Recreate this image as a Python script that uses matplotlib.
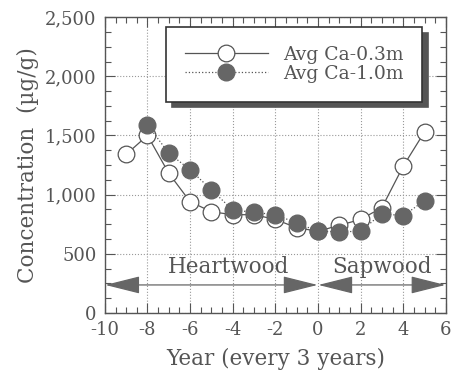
import numpy as np
import matplotlib.pyplot as plt
from matplotlib.ticker import MultipleLocator, FuncFormatter

# data
years_03 = [-9, -8, -7, -6, -5, -4, -3, -2, -1, 0, 1, 2, 3, 4, 5]
ca_03 = [1340, 1500, 1180, 940, 855, 830, 830, 790, 720, 690, 740, 790, 890, 1240, 1530]
years_10 = [-8, -7, -6, -5, -4, -3, -2, -1, 0, 1, 2, 3, 4, 5]
ca_10 = [1590, 1350, 1210, 1040, 870, 850, 830, 760, 690, 685, 690, 840, 820, 950]

ink = '#555555'
plt.rcParams['font.family'] = 'DejaVu Serif'
plt.rcParams['axes.unicode_minus'] = False
plt.rcParams['text.color'] = ink
plt.rcParams['axes.labelcolor'] = ink
plt.rcParams['xtick.color'] = ink
plt.rcParams['ytick.color'] = ink

fig = plt.figure(figsize=(4.54, 3.82), dpi=100)
ax = fig.add_axes([0.231, 0.181, 0.751, 0.774])

ax.plot(years_03, ca_03, '-', color=ink, lw=0.9, marker='o', ms=12,
        mfc='white', mec=ink, mew=0.9, label='Avg Ca-0.3m', zorder=3)
ax.plot(years_10, ca_10, ':', color=ink, lw=0.9, marker='o', ms=12,
        mfc='#666666', mec='#666666', label='Avg Ca-1.0m', zorder=4)

ax.set_xlim(-10, 6)
ax.set_ylim(0, 2500)
ax.xaxis.set_major_locator(MultipleLocator(2))
ax.xaxis.set_minor_locator(MultipleLocator(0.5))
ax.yaxis.set_major_locator(MultipleLocator(500))
ax.yaxis.set_minor_locator(MultipleLocator(125))
ax.yaxis.set_major_formatter(FuncFormatter(lambda v, p: f'{int(v):,}'))
ax.tick_params(which='both', direction='in', top=True, right=True, labelsize=13)
ax.tick_params(which='major', length=7, width=0.8)
ax.tick_params(which='minor', length=4, width=0.8)
ax.tick_params(axis='x', pad=6)
ax.tick_params(axis='y', pad=6)
ax.grid(True, which='major', linestyle=':', color='#999999', lw=0.8)
for s in ax.spines.values():
    s.set_color(ink)
    s.set_linewidth(1.0)

ax.set_xlabel('Year (every 3 years)', fontsize=15.5, labelpad=6)
ax.set_ylabel('Concentration  (µg/g)', fontsize=15.5, labelpad=4)

# heartwood / sapwood arrows
arrow_y = 236
for x0, x1 in [(-10, 0), (0, 6)]:
    ax.annotate('', xy=(x0 + 0.02, arrow_y), xytext=(x1 - 0.02, arrow_y),
                arrowprops=dict(arrowstyle='<|-|>,head_length=2.2,head_width=0.55',
                                color='#666666', lw=0.9, shrinkA=0, shrinkB=0))
ax.text(-4.2, 385, 'Heartwood', ha='center', va='center', fontsize=15.5)
ax.text(3.0, 385, 'Sapwood', ha='center', va='center', fontsize=15.5)

leg = ax.legend(loc='upper right', bbox_to_anchor=(0.93, 0.966), borderaxespad=0,
                fontsize=13.5, frameon=True, fancybox=False, edgecolor='#333333',
                framealpha=1, shadow=dict(ox=4, oy=-4, color='#555555', alpha=1),
                handlelength=4.4, borderpad=1.0, labelspacing=0.05)
leg.get_frame().set_linewidth(1.2)
leg.set_zorder(10)

fig.savefig('out.png', dpi=100)
